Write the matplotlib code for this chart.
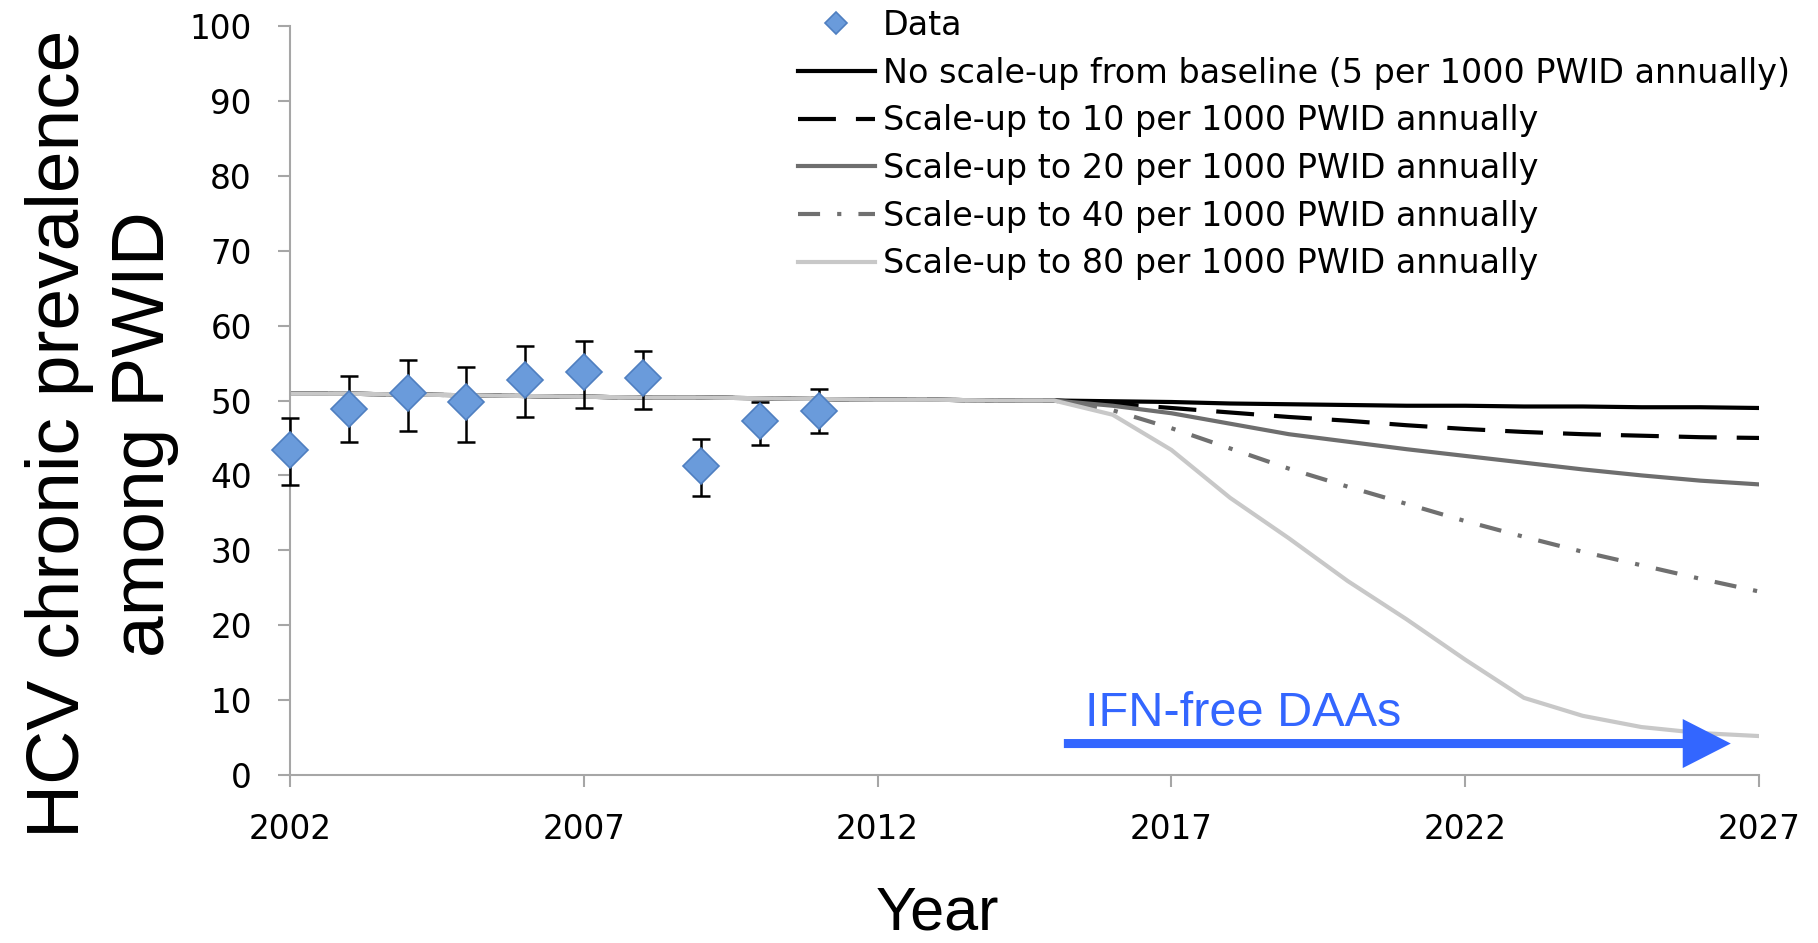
import matplotlib
matplotlib.use("Agg")
import matplotlib.pyplot as plt
from matplotlib.patches import FancyArrowPatch

# ---------------- data ----------------
data_years = [2002, 2003, 2004, 2005, 2006, 2007, 2008, 2009, 2010, 2011]
data_prev = [43.4, 48.9, 51.0, 49.8, 52.8, 53.8, 53.0, 41.2, 47.3, 48.6]
data_low = [38.7, 44.5, 45.9, 44.5, 47.8, 49.0, 48.9, 37.2, 44.1, 45.7]
data_high = [47.7, 53.3, 55.4, 54.5, 57.3, 57.9, 56.6, 44.9, 49.8, 51.6]

model_years = list(range(2002, 2028))
no_scaleup = [50.9, 50.9, 50.8, 50.7, 50.6, 50.5, 50.4, 50.4, 50.3, 50.2, 50.1, 50.1, 50.0,
              50.0, 49.9, 49.8, 49.6, 49.5, 49.4, 49.3, 49.3, 49.2, 49.2, 49.1, 49.1, 49.0]
scale10 = [50.9, 50.9, 50.8, 50.7, 50.6, 50.5, 50.4, 50.4, 50.3, 50.2, 50.1, 50.1, 50.0,
           50.0, 49.6, 49.0, 48.4, 47.8, 47.3, 46.7, 46.2, 45.8, 45.5, 45.3, 45.1, 45.0]
scale20 = [50.9, 50.9, 50.8, 50.7, 50.6, 50.5, 50.4, 50.4, 50.3, 50.2, 50.1, 50.1, 50.0,
           50.0, 49.3, 48.3, 46.9, 45.5, 44.5, 43.5, 42.6, 41.7, 40.8, 40.0, 39.3, 38.8]
scale40 = [50.9, 50.9, 50.8, 50.7, 50.6, 50.5, 50.4, 50.4, 50.3, 50.2, 50.1, 50.1, 50.0,
           50.0, 48.7, 46.3, 43.6, 40.9, 38.5, 36.2, 33.9, 31.8, 29.8, 28.0, 26.2, 24.5]
scale80 = [50.9, 50.9, 50.8, 50.7, 50.6, 50.5, 50.4, 50.4, 50.3, 50.2, 50.1, 50.1, 50.0,
           50.0, 48.1, 43.4, 37.0, 31.6, 25.9, 20.8, 15.4, 10.3, 7.9, 6.4, 5.6, 5.2]

labels = ["Data",
          "No scale-up from baseline (5 per 1000 PWID annually)",
          "Scale-up to 10 per 1000 PWID annually",
          "Scale-up to 20 per 1000 PWID annually",
          "Scale-up to 40 per 1000 PWID annually",
          "Scale-up to 80 per 1000 PWID annually"]
x_ticks = [2002, 2007, 2012, 2017, 2022, 2027]
y_ticks = [0, 10, 20, 30, 40, 50, 60, 70, 80, 90, 100]
arrow_start, arrow_end, arrow_level = 2015.17, 2026.52, 4.2
arrow_text = "IFN-free DAAs"

# ---------------- figure ----------------
W, H = 1818, 943
fig = plt.figure(figsize=(W / 100, H / 100), dpi=100)
ax = fig.add_axes([290 / W, 1 - 775 / H, (1759 - 290) / W, (775 - 26) / H])

LW = 3.0
l0, = ax.plot(model_years, no_scaleup, color="black", lw=LW, zorder=2)
l1, = ax.plot(model_years, scale10, color="black", lw=LW, linestyle=(0, (9.1, 4.8)), zorder=2)
l2, = ax.plot(model_years, scale20, color="#6E6E6E", lw=LW, zorder=2)
l3, = ax.plot(model_years, scale40, color="#707070", lw=LW,
              linestyle=(0, (5.3, 4.1, 1.0, 4.1)), zorder=2)
l4, = ax.plot(model_years, scale80, color="#C8C8C8", lw=LW, zorder=2)

yerr = [[v - lo for v, lo in zip(data_prev, data_low)],
        [hi - v for v, hi in zip(data_prev, data_high)]]
eb = ax.errorbar(data_years, data_prev, yerr=yerr, fmt="none", ecolor="black",
                 elinewidth=1.8, capsize=6.4, capthick=1.8, zorder=3)
for art in eb.lines[1] + eb.lines[2]:
    art.set_clip_on(False)
dh, = ax.plot(data_years, data_prev, linestyle="none", marker="D", markersize=18.5,
              markerfacecolor="#6A9BDB", markeredgecolor="#4F7FC0", markeredgewidth=1.2,
              zorder=4, clip_on=False)

ax.set_xlim(2002, 2027)
ax.set_ylim(0, 100)
ax.set_xticks(x_ticks)
ax.set_yticks(y_ticks)
for s in ("top", "right"):
    ax.spines[s].set_visible(False)
for s in ("left", "bottom"):
    ax.spines[s].set_color("#A6A6A6")
    ax.spines[s].set_linewidth(1.5)
ax.tick_params(direction="out", length=8.6, width=1.5, color="#A6A6A6",
               labelsize=23.5, labelcolor="black")
ax.tick_params(axis="y", pad=19)
ax.tick_params(axis="x", pad=18.5)
for t in ax.get_xticklabels() + ax.get_yticklabels():
    t.set_fontfamily("DejaVu Sans")

# arrow + text
arr = FancyArrowPatch((arrow_start, arrow_level), (arrow_end, arrow_level),
                      arrowstyle="simple,head_length=34.6,head_width=35.3,tail_width=6.5",
                      mutation_scale=1, color="#3366FF", lw=0, shrinkA=0, shrinkB=0,
                      zorder=5)
ax.add_patch(arr)
ax.text(2015.53, 6.5, arrow_text, color="#3366FF", fontsize=35,
        family="Liberation Sans", ha="left", va="baseline", zorder=5)

# axis labels
fig.text(102 / W, 1 - 434 / H, "HCV chronic prevalence\namong PWID", rotation=90,
         ha="center", va="center", multialignment="center", fontsize=54,
         family="Liberation Sans", linespacing=1.3)
fig.text(937 / W, 1 - 930 / H, "Year", ha="center", va="baseline", fontsize=44,
         family="Liberation Sans")

# legend
leg = ax.legend([dh, l0, l1, l2, l3, l4], labels, loc="upper left",
                bbox_to_anchor=(798 / W, 1 - 9 / H), bbox_transform=fig.transFigure,
                frameon=False, handlelength=2.3, handletextpad=0.25,
                labelspacing=0.44, borderpad=0, borderaxespad=0, markerscale=0.62,
                numpoints=1, prop={"family": "DejaVu Sans", "size": 24})

fig.savefig("out.png", dpi=100)
